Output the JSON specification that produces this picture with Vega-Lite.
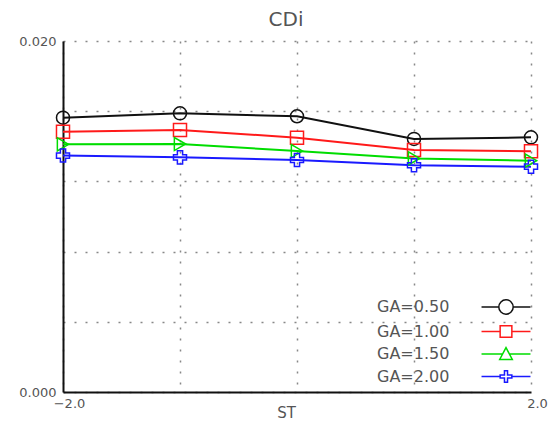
{
  "$schema": "https://vega.github.io/schema/vega-lite/v6.json",
  "autosize": {"type": "none"},
  "padding": {"left": 63, "top": 41, "right": 29, "bottom": 33},
  "width": 468,
  "height": 351,
  "background": "white",
  "title": {"text": "CDi", "font": "DejaVu Sans", "fontSize": 20, "fontWeight": "normal", "color": "#555555", "anchor": "middle", "dx": -11, "offset": 5},
  "config": {"view": {"stroke": null}},
  "data": {"values": [
    {"ST": -2, "CDi": 0.01563, "GA": "GA=0.50"},
    {"ST": -1, "CDi": 0.01588, "GA": "GA=0.50"},
    {"ST": 0, "CDi": 0.01571, "GA": "GA=0.50"},
    {"ST": 1, "CDi": 0.01442, "GA": "GA=0.50"},
    {"ST": 2, "CDi": 0.01451, "GA": "GA=0.50"},
    {"ST": -2, "CDi": 0.01483, "GA": "GA=1.00"},
    {"ST": -1, "CDi": 0.01493, "GA": "GA=1.00"},
    {"ST": 0, "CDi": 0.01449, "GA": "GA=1.00"},
    {"ST": 1, "CDi": 0.01379, "GA": "GA=1.00"},
    {"ST": 2, "CDi": 0.01372, "GA": "GA=1.00"},
    {"ST": -2, "CDi": 0.01411, "GA": "GA=1.50"},
    {"ST": -1, "CDi": 0.01413, "GA": "GA=1.50"},
    {"ST": 0, "CDi": 0.01373, "GA": "GA=1.50"},
    {"ST": 1, "CDi": 0.01331, "GA": "GA=1.50"},
    {"ST": 2, "CDi": 0.01318, "GA": "GA=1.50"},
    {"ST": -2, "CDi": 0.01347, "GA": "GA=2.00"},
    {"ST": -1, "CDi": 0.01337, "GA": "GA=2.00"},
    {"ST": 0, "CDi": 0.01322, "GA": "GA=2.00"},
    {"ST": 1, "CDi": 0.01292, "GA": "GA=2.00"},
    {"ST": 2, "CDi": 0.01284, "GA": "GA=2.00"}
  ]},
  "encoding": {
    "x": {"field": "ST", "type": "quantitative",
      "scale": {"domain": [-2, 2], "nice": false, "zero": false},
      "axis": {"values": [-2, -1, 0, 1, 2], "format": ".1f", "labelExpr": "abs(datum.value) == 2 ? datum.label : ''",
        "labelFlush": false, "labelOverlap": false, "labelFont": "DejaVu Sans", "labelFontSize": 13, "labelColor": "#555555",
        "labelPadding": 5, "labelOffset": 6, "ticks": false, "domainColor": "#111111", "domainWidth": 2,
        "grid": true, "gridColor": "#888888", "gridDash": [2, 9], "gridWidth": 1.5,
        "title": "ST", "titleFont": "DejaVu Sans", "titleFontSize": 15, "titleFontWeight": "normal", "titleColor": "#555555",
        "titleX": 223, "titleY": 25, "titleBaseline": "alphabetic", "titleAlign": "center"}},
    "y": {"field": "CDi", "type": "quantitative",
      "scale": {"domain": [0, 0.02], "nice": false},
      "axis": {"values": [0, 0.004, 0.008, 0.012, 0.016, 0.02], "format": ".3f", "labelExpr": "datum.value == 0 || datum.value == 0.02 ? datum.label : ''",
        "labelFlush": false, "labelOverlap": false, "labelFont": "DejaVu Sans", "labelFontSize": 13, "labelColor": "#555555",
        "labelPadding": 7, "ticks": false, "domainColor": "#111111", "domainWidth": 2,
        "grid": true, "gridColor": "#888888", "gridDash": [2, 9], "gridWidth": 1.5, "title": null}}
  },
  "layer": [
    {
      "mark": {"type": "line", "strokeWidth": 2},
      "encoding": {
        "color": {"field": "GA", "type": "nominal", "scale": {"range": ["#111111", "#ff1a1a", "#00dd00", "#1a1aff"]}, "legend": null}
      }
    },
    {
      "mark": {"type": "point", "filled": false, "strokeWidth": 1.5, "size": 170, "opacity": 1},
      "encoding": {
        "color": {"field": "GA", "type": "nominal", "legend": null},
        "shape": {"field": "GA", "type": "nominal", "scale": {"range": ["circle", "square", "triangle-right", "cross"]}, "legend": null}
      }
    },
    {
      "mark": {"type": "point", "filled": false, "strokeWidth": 1.5, "size": 324, "opacity": 0},
      "encoding": {
        "stroke": {"field": "GA", "type": "nominal", "scale": {"range": ["#111111", "#ff1a1a", "#00dd00", "#1a1aff"]}, "legend": {
          "orient": "none", "legendX": 314, "legendY": 256, "title": null, "padding": 0, "rowPadding": 3.5,
          "labelFont": "DejaVu Sans", "labelFontSize": 16, "labelColor": "#555555",
          "symbolSize": 324, "symbolStrokeWidth": 1.5, "symbolOpacity": 1, "symbolFillColor": "transparent",
          "labelOffset": -139, "symbolOffset": 119}},
        "shape": {"field": "GA", "type": "nominal", "scale": {"range": [
          "M-2.72,0H-0.8M0.8,0H2.72M-0.8,0A0.8,0.8,0,1,1,0.8,0A0.8,0.8,0,1,1,-0.8,0",
          "M-2.72,0H-0.65M0.65,0H2.72M-0.65,-0.65H0.65V0.65H-0.65Z",
          "M-2.72,0H-0.35M0.35,0H2.72M0,-0.7L0.7,0.6L-0.7,0.6Z",
          "M-2.72,0H-0.65M0.65,0H2.72M-0.17,-0.65H0.17V-0.17H0.65V0.17H0.17V0.65H-0.17V0.17H-0.65V-0.17H-0.17Z"
        ]}, "legend": {
          "orient": "none", "legendX": 314, "legendY": 256, "title": null, "padding": 0, "rowPadding": 3.5,
          "labelFont": "DejaVu Sans", "labelFontSize": 16, "labelColor": "#555555",
          "symbolSize": 324, "symbolStrokeWidth": 1.5, "symbolOpacity": 1, "symbolFillColor": "transparent",
          "labelOffset": -139, "symbolOffset": 119}}
      }
    }
  ],
  "resolve": {"scale": {"shape": "independent", "stroke": "independent"}, "legend": {"shape": "independent", "stroke": "independent"}}
}
